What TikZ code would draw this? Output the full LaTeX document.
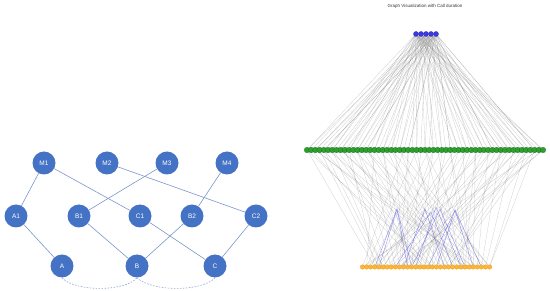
\documentclass[tikz,border=0pt]{standalone}
\usepackage{fontspec}
\setmainfont{Liberation Sans}
\usetikzlibrary{backgrounds}
\definecolor{nblue}{HTML}{4472C4}
\definecolor{eblue}{HTML}{7C95CC}
\definecolor{dblue}{HTML}{8FA6D6}
\definecolor{topblue}{HTML}{3A3AE0}
\definecolor{ngreen}{HTML}{2CA02C}
\definecolor{norange}{HTML}{FFB531}
\definecolor{pblue}{HTML}{6B6BE8}
\tikzset{
  bignode/.style={circle,fill=nblue,minimum size=23pt,inner sep=0pt,text=white,font=\fontsize{6.5}{7}\selectfont},
  leftedge/.style={draw=eblue,line width=0.6pt},
  dashedge/.style={draw=dblue,line width=0.6pt,dash pattern=on 1.6pt off 1.4pt},
  topnode/.style={circle,fill=topblue,draw=topblue!70!black,line width=0.2pt,minimum size=5.2pt,inner sep=0pt},
  greennode/.style={circle,fill=ngreen,draw=ngreen!60!black,line width=0.2pt,minimum size=5.6pt,inner sep=0pt},
  orangenode/.style={circle,fill=norange,draw=norange!85!black,line width=0.15pt,minimum size=4.6pt,inner sep=0pt},
  grayedge/.style={draw=gray,line width=0.3pt,opacity=0.38},
  peakedge/.style={draw=pblue,line width=0.35pt,opacity=0.8}
}
\begin{document}
\begin{tikzpicture}[x=1pt,y=-1pt]
\useasboundingbox (0,0) rectangle (550,291);
% left graph
\node[bignode] (M1) at (44,163) {M1};
\node[bignode] (M2) at (107,163) {M2};
\node[bignode] (M3) at (167,163) {M3};
\node[bignode] (M4) at (227,163) {M4};
\node[bignode] (A1) at (16,216) {A1};
\node[bignode] (B1) at (79,216) {B1};
\node[bignode] (C1) at (140,216) {C1};
\node[bignode] (B2) at (192,216) {B2};
\node[bignode] (C2) at (256,216) {C2};
\node[bignode] (A) at (62,266) {A};
\node[bignode] (B) at (137,266) {B};
\node[bignode] (C) at (215,266) {C};
\begin{pgfonlayer}{background}
\draw[leftedge] (M1) -- (A1);
\draw[leftedge] (M1) -- (C1);
\draw[leftedge] (M2) -- (C2);
\draw[leftedge] (M3) -- (B1);
\draw[leftedge] (M4) -- (B2);
\draw[leftedge] (A1) -- (A);
\draw[leftedge] (B1) -- (B);
\draw[leftedge] (C1) -- (C);
\draw[leftedge] (B2) -- (B);
\draw[leftedge] (C2) -- (C);
\end{pgfonlayer}
\draw[dashedge] (A.south) .. controls (75,292) and (125,292) .. (B.south);
\draw[dashedge] (B.south) .. controls (152,292) and (202,292) .. (C.south);
% right graph
\node[font=\fontsize{4.5}{5}\selectfont,text=black!80] (title) at (425,6) {Graph Visualization with Call duration};
\foreach \k in {0,...,4} {\node[topnode] (b\k) at (416+\k*5,34) {};}
\foreach \i in {0,...,56} {\node[greennode] (g\i) at (307+\i*4.214,150) {};}
\foreach \j in {0,...,31} {\node[orangenode] (o\j) at (362.5+\j*4.1,267) {};}
\coordinate (p1) at (397,209);
\coordinate (p2) at (425,209);
\coordinate (p3) at (436,207);
\coordinate (p4) at (440,209);
\coordinate (p5) at (455,210);
\coordinate (p6) at (431,212);
\begin{pgfonlayer}{background}
\foreach \i in {0,...,56} {
  \pgfmathtruncatemacro{\ka}{mod(\i,5)}
  \draw[grayedge] (b\ka.center) -- (g\i.center);
  \pgfmathtruncatemacro{\kb}{mod(\i*3+2,5)}
  \ifodd\i\relax\else\draw[grayedge] (b\kb.center) -- (g\i.center);\fi
  \pgfmathtruncatemacro{\ja}{mod(\i*11+3,32)}
  \draw[grayedge] (g\i.center) -- (o\ja.center);
  \pgfmathtruncatemacro{\jb}{mod(\i*5+17,32)}
  \ifodd\i\relax\else\draw[grayedge] (g\i.center) -- (o\jb.center);\fi
}
\draw[peakedge] (o4.center) -- (p1) -- (o11.center);
\draw[peakedge] (o3.center) -- (p1) -- (o12.center);
\draw[peakedge] (o10.center) -- (p2) -- (o20.center);
\draw[peakedge] (o13.center) -- (p3) -- (o24.center);
\draw[peakedge] (o12.center) -- (p4) -- (o25.center);
\draw[peakedge] (o18.center) -- (p5) -- (o27.center);
\draw[peakedge] (o16.center) -- (p5) -- (o29.center);
\draw[peakedge] (o8.center) -- (p6) -- (o22.center);
\end{pgfonlayer}
\end{tikzpicture}
\end{document}
